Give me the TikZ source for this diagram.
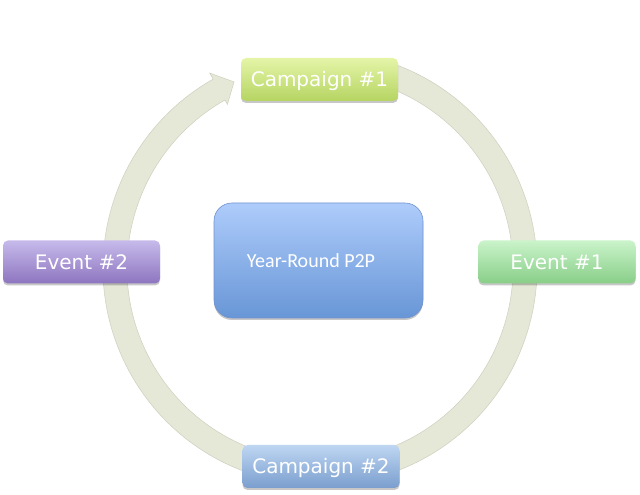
\documentclass[tikz,border=0pt]{standalone}
\usepackage{fontspec}
\setmainfont{DejaVu Sans}
\newfontfamily\carl{Carlito}
\usetikzlibrary{shadows}
\definecolor{ringcol}{RGB}{229,232,214}
\definecolor{ringedge}{RGB}{205,208,190}
\definecolor{caoneT}{RGB}{228,245,168}
\definecolor{caoneB}{RGB}{182,212,98}
\definecolor{evoneT}{RGB}{202,243,202}
\definecolor{evoneB}{RGB}{136,206,136}
\definecolor{evtwoT}{RGB}{198,186,234}
\definecolor{evtwoB}{RGB}{142,117,192}
\definecolor{catwoT}{RGB}{190,214,242}
\definecolor{catwoB}{RGB}{122,158,206}
\definecolor{cenT}{RGB}{174,204,251}
\definecolor{cenB}{RGB}{104,150,214}
\definecolor{cenedge}{RGB}{112,146,206}
\tikzset{
  smallbox/.style={rounded corners=5pt, minimum width=157pt, minimum height=43pt,
    inner sep=0pt, text=white, font=\fontsize{20}{22}\selectfont,
    text height=14.6pt, text depth=0pt,
    shading=axis, shading angle=0,
    drop shadow={shadow xshift=0pt, shadow yshift=-2pt, opacity=0.22, fill=black}},
  ringstyle/.style={fill=ringcol, draw=ringedge, line width=0.5pt}
}
\begin{document}
\begin{tikzpicture}
\useasboundingbox (0,0) rectangle (640pt,495pt);
\coordinate (C) at (320pt,227pt);
\path[ringstyle] ([shift={(72:217pt)}]C) arc[start angle=72, end angle=-240.5, radius=217pt]
  -- ([shift={(-240.5:224pt)}]C) -- ([shift={(-245.2:205pt)}]C) -- ([shift={(-240.5:188pt)}]C)
  -- ([shift={(-240.5:193pt)}]C) arc[start angle=-240.5, end angle=72, radius=193pt] -- cycle;

\node[smallbox, top color=caoneT, bottom color=caoneB] (c1) at (319.5pt,415.5pt) {Campaign \#1};
\node[smallbox, top color=evoneT, bottom color=evoneB] (e1) at (557pt,233pt) {Event \#1};
\node[smallbox, top color=evtwoT, bottom color=evtwoB] (e2) at (81.5pt,233pt) {Event \#2};
\node[smallbox, top color=catwoT, bottom color=catwoB] (c2) at (321pt,28.5pt) {Campaign \#2};

\node[rounded corners=18pt, minimum width=209pt, minimum height=115pt, inner sep=0pt,
  top color=cenT, bottom color=cenB, draw=cenedge, line width=0.6pt,
  drop shadow={shadow xshift=0pt, shadow yshift=-2pt, opacity=0.22, fill=black}] (yr) at (318.5pt,234.5pt) {};
\node[text=white, font=\carl\fontsize{20}{22}\selectfont, inner sep=0pt] (yrt) at ([xshift=-7.5pt]yr.center) {Year-Round P2P};
\end{tikzpicture}
\end{document}
